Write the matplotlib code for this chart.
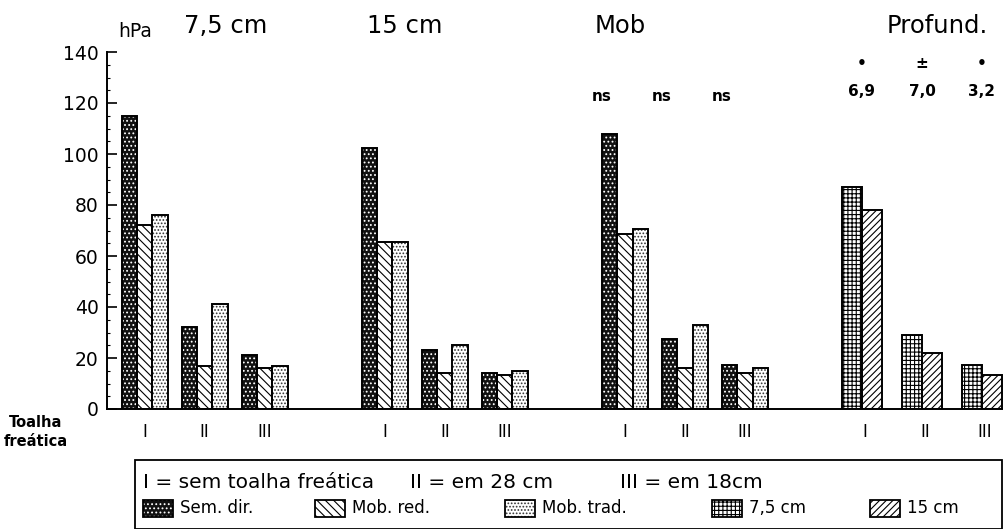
import matplotlib
matplotlib.use("Agg")
import matplotlib.pyplot as plt
from matplotlib.patches import Rectangle
import numpy as np

# ── data (hPa) ──────────────────────────────────────────────────────
GROUPS = ["7,5 cm", "15 cm", "Mob", "Profund."]
WATER_TABLE = ["I", "II", "III"]

# three tillage series, one value per (group, water table) for the first three groups
SEM_DIR = [115, 32, 21, 102.5, 23, 14.2, 108, 27.3, 17.1]
MOB_RED = [72, 17, 16, 65.4, 14, 13.2, 68.5, 16.1, 14.2]
MOB_TRAD = [76, 41, 17, 65.4, 25, 14.9, 70.6, 32.8, 16.2]

# depth comparison (last group)
PROF_75 = [87, 29, 17.4]
PROF_15 = [78, 22, 13.5]

NS_LABELS = ["ns", "ns", "ns"]
PROF_SIG = ["•", "±", "•"]
PROF_F = ["6,9", "7,0", "3,2"]

# ── styles ──────────────────────────────────────────────────────────
plt.rcParams["font.family"] = ["DejaVu Sans"]
plt.rcParams["hatch.linewidth"] = 0.8

STYLES = {
    "Sem. dir.": dict(face="#111111", hatch="....", hcol="white"),
    "Mob. red.": dict(face="white", hatch="\\\\\\\\", hcol="black"),
    "Mob. trad.": dict(face="white", hatch=".....", hcol="#333333"),
    "7,5 cm": dict(face="white", hatch="++++", hcol="black"),
    "15 cm": dict(face="white", hatch="/////", hcol="black"),
}

W3 = 0.2556   # bar width, three-bar clusters
W4 = 0.333    # bar width, depth clusters


def hatched_bar(ax, x, h, w, style):
    st = STYLES[style]
    ax.bar(x, h, w, align="edge", color=st["face"], edgecolor=st["hcol"],
           hatch=st["hatch"], linewidth=0, zorder=2)
    ax.bar(x, h, w, align="edge", fill=False, edgecolor="black",
           linewidth=1.4, zorder=3)


fig = plt.figure(figsize=(10.04, 5.29), dpi=100)
ax = fig.add_axes([107 / 1004, 1 - 409 / 529, 896 / 1004, 357 / 529])

series = [("Sem. dir.", SEM_DIR), ("Mob. red.", MOB_RED), ("Mob. trad.", MOB_TRAD)]
centers = []
for g in range(3):
    for s in range(3):
        c = 4 * g + s
        centers.append(c)
        for k, (name, vals) in enumerate(series):
            hatched_bar(ax, c - 1.5 * W3 + k * W3, vals[3 * g + s], W3, name)

for s in range(3):
    c = 12 + s
    centers.append(c)
    left = c - 1.5 * W3
    hatched_bar(ax, left, PROF_75[s], W4, "7,5 cm")
    hatched_bar(ax, left + W4, PROF_15[s], W4, "15 cm")

ax.set_xlim(-0.628, 14.30)
ax.set_ylim(0, 140)
for side in ["top", "right"]:
    ax.spines[side].set_visible(False)
ax.spines["left"].set_linewidth(1.4)
ax.spines["bottom"].set_linewidth(1.4)

ax.set_yticks(np.arange(0, 141, 20))
ax.set_yticks(np.arange(0, 141, 5), minor=True)
ax.tick_params(axis="y", which="major", direction="in", length=7, width=1.2,
               labelsize=13.5, pad=6)
ax.tick_params(axis="y", which="minor", direction="in", length=2, width=0.8)
ax.set_xticks(centers)
ax.set_xticklabels(WATER_TABLE * 4, fontsize=12)
ax.tick_params(axis="x", length=0, pad=10)

# group titles
title_x = [226, 405, 620, 937]
for name, px in zip(GROUPS, title_x):
    fig.text(px / 1004, 1 - 33 / 529, name, fontsize=17.5, ha="center", va="baseline")
fig.text(135 / 1004, 1 - 37 / 529, "hPa", fontsize=13.5, ha="center", va="baseline")

# significance annotations
for s, lab in enumerate(NS_LABELS):
    ax.text(8 + s - 0.38, 122.5, lab, fontsize=11, ha="center", va="center",
            fontweight="bold")
for s in range(3):
    c = 12 + s - 1.5 * W3 + W4
    ax.text(c, 135.5, PROF_SIG[s], fontsize=11, ha="center", va="center",
            fontweight="bold", clip_on=False)
    ax.text(c, 124.5, PROF_F[s], fontsize=11, ha="center", va="center",
            fontweight="bold")

fig.text(36 / 1004, 1 - 432 / 529, "Toalha\nfreática", fontsize=10.5,
         ha="center", va="center", linespacing=1.3, fontweight="bold")

# legend box
fig.add_artist(Rectangle((135 / 1004, 0.0), 867 / 1004, (529 - 460) / 529,
                         transform=fig.transFigure, fill=False,
                         edgecolor="black", linewidth=1.3))
line1 = [(143, "I = sem toalha freática"), (410, "II = em 28 cm"),
         (620, "III = em 18cm")]
for px, txt in line1:
    fig.text(px / 1004, 1 - 483 / 529, txt, fontsize=14.5, ha="left", va="center")

legend_items = [(143, "Sem. dir."), (315, "Mob. red."), (505, "Mob. trad."),
                (712, "7,5 cm"), (870, "15 cm")]
for px, name in legend_items:
    st = STYLES[name]
    y0 = 1 - 517 / 529
    hgt = 17 / 529
    fig.add_artist(Rectangle((px / 1004, y0), 30 / 1004, hgt,
                             transform=fig.transFigure, facecolor=st["face"],
                             edgecolor=st["hcol"], hatch=st["hatch"], linewidth=0))
    fig.add_artist(Rectangle((px / 1004, y0), 30 / 1004, hgt,
                             transform=fig.transFigure, fill=False,
                             edgecolor="black", linewidth=1.3))
    fig.text((px + 37) / 1004, 1 - 508 / 529, name, fontsize=12, ha="left",
             va="center")

fig.savefig("out.png", dpi=100)
